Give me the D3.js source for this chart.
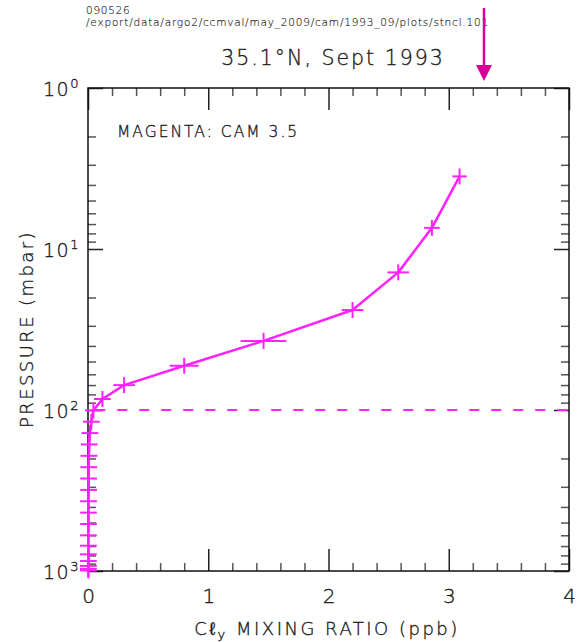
<!DOCTYPE html>
<html><head><meta charset="utf-8">
<script src="https://cdn.jsdelivr.net/npm/d3@7"></script>
<style>
body{margin:0;background:#fff;}
svg{display:block;font-family:"DejaVu Sans",Arial,sans-serif;}
</style></head>
<body><svg id="c" width="577" height="642"></svg>
<script>
// pressure levels (mbar)
const levels = [3.54, 7.39, 13.97, 23.94, 37.23, 53.11, 70.06, 85.44, 100.51, 118.25, 139.12, 163.66, 192.54, 226.51, 266.48, 313.50, 368.82, 433.89, 510.46, 600.52, 696.80, 787.70, 867.16, 929.65, 970.55, 992.56];
// Cly mixing ratio (ppb)
const cly = [3.09, 2.86, 2.58, 2.20, 1.46, 0.80, 0.30, 0.12, 0.045, 0.028, 0.016, 0.010, 0.008, 0.006, 0.005, 0.005, 0.004, 0.004, 0.004, 0.003, 0.003, 0.003, 0.003, 0.003, 0.003, 0.003];
// horizontal half-width of crosses (ppb)
const spread = [0.06, 0.065, 0.09, 0.09, 0.19, 0.12, 0.09, 0.07, 0.07, 0.07, 0.07, 0.07, 0.07, 0.07, 0.07, 0.07, 0.07, 0.07, 0.07, 0.07, 0.07, 0.07, 0.07, 0.07, 0.07, 0.07];
const tropopause = 100;
const xTicks = [0, 1, 2, 3, 4];
const xMinor = [0.2,0.4,0.6,0.8,1.2,1.4,1.6,1.8,2.2,2.4,2.6,2.8,3.2,3.4,3.6,3.8];
const yTicks = [1, 10, 100, 1000];
const yExp = ["0", "1", "2", "3"];
const headerDate = "090526";
const headerPath = "/export/data/argo2/ccmval/may_2009/cam/1993_09/plots/stncl.101";
const title = "35.1°N, Sept 1993";
const legendText = "MAGENTA:  CAM  3.5";

const FONT = "DejaVu Sans, Arial, sans-serif";
const TXT = "#1a1a1a";
const svg = d3.select("#c");
const L = 88, R = 569, T = 88, B = 571;
const x = d3.scaleLinear().domain([0, 4]).range([L, R]);
const y = d3.scaleLog().domain([1, 1000]).range([T, B]);
const yMinor = [];
[1, 10, 100].forEach(d => { for (let k = 2; k <= 9; k++) yMinor.push(d * k); });

svg.append("rect").attr("width", 577).attr("height", 642).attr("fill", "#fff");

function txt(sel, size, ls, sw) {
  return sel.attr("font-size", size).attr("fill", TXT).attr("font-weight", 300)
    .attr("font-family", FONT).attr("letter-spacing", ls || 0)
    .attr("stroke", TXT).attr("stroke-width", sw === undefined ? 0.35 : sw);
}

// header
txt(svg.append("text").attr("x", 86).attr("y", 14), 10.5, 0.7, 0.15).text(headerDate);
txt(svg.append("text").attr("x", 86).attr("y", 26), 10.5, 0.8, 0.15).text(headerPath);
txt(svg.append("text").attr("x", 333).attr("y", 65).attr("text-anchor", "middle"), 20.5, 2).text(title);

// arrow
svg.append("line").attr("x1", 484).attr("x2", 484).attr("y1", 8).attr("y2", 68)
  .attr("stroke", "#d6009b").attr("stroke-width", 2.5);
svg.append("path").attr("d", "M476,65 L492,65 L484,81 Z").attr("fill", "#d6009b");

// axes
function styleAxis(g, minor) {
  g.select(".domain").remove();
  g.selectAll(".tick line").attr("stroke", minor ? "#555" : "#222").attr("stroke-width", 1.5);
}
svg.append("g").attr("transform", `translate(0,${B})`)
  .call(d3.axisBottom(x).tickValues(xMinor).tickSize(-8).tickFormat("")).call(g => styleAxis(g, true));
svg.append("g").attr("transform", `translate(0,${T})`)
  .call(d3.axisTop(x).tickValues(xMinor).tickSize(-8).tickFormat("")).call(g => styleAxis(g, true));
const xb = svg.append("g").attr("transform", `translate(0,${B})`)
  .call(d3.axisBottom(x).tickValues(xTicks).tickSize(-22).tickFormat(d3.format("d"))).call(g => styleAxis(g, false));
xb.selectAll(".tick text").attr("y", 32).attr("dy", 0).call(s => txt(s, 20, 0));
svg.append("g").attr("transform", `translate(0,${T})`)
  .call(d3.axisTop(x).tickValues(xTicks).tickSize(-22).tickFormat("")).call(g => styleAxis(g, false));

svg.append("g").attr("transform", `translate(${L},0)`)
  .call(d3.axisLeft(y).tickValues(yMinor).tickSize(-8).tickFormat("")).call(g => styleAxis(g, true));
svg.append("g").attr("transform", `translate(${R},0)`)
  .call(d3.axisRight(y).tickValues(yMinor).tickSize(-8).tickFormat("")).call(g => styleAxis(g, true));
const yl = svg.append("g").attr("transform", `translate(${L},0)`)
  .call(d3.axisLeft(y).tickValues(yTicks).tickSize(-15).tickFormat("")).call(g => styleAxis(g, false));
yl.selectAll(".tick").each(function(d, i) {
  const t = txt(d3.select(this).append("text").attr("x", -8).attr("y", 7).attr("text-anchor", "end"), 19, 1.5);
  t.append("tspan").text("10");
  t.append("tspan").attr("dy", -8).attr("font-size", 13).text(yExp[i]);
});
svg.append("g").attr("transform", `translate(${R},0)`)
  .call(d3.axisRight(y).tickValues(yTicks).tickSize(-15).tickFormat("")).call(g => styleAxis(g, false));

// frame
svg.append("rect").attr("x", L).attr("y", T).attr("width", R - L).attr("height", B - T)
  .attr("fill", "none").attr("stroke", "#111").attr("stroke-width", 1.5);

// axis titles
const xt = txt(svg.append("text").attr("x", 327).attr("y", 635).attr("text-anchor", "middle"), 18, 2.5);
xt.append("tspan").text("Cℓ");
xt.append("tspan").attr("dy", 4).attr("font-size", 13).text("y");
xt.append("tspan").attr("dy", -4).text(" MIXING  RATIO  (ppb)");
txt(svg.append("text").attr("transform", "translate(33,329) rotate(-90)").attr("text-anchor", "middle"), 18, 2.4)
  .text("PRESSURE  (mbar)");

// legend
txt(svg.append("text").attr("x", 117).attr("y", 137), 15.5, 2).text(legendText);

// tropopause dashed line
svg.append("line").attr("x1", x(0.06)).attr("x2", R).attr("y1", y(tropopause)).attr("y2", y(tropopause))
  .attr("stroke", "#ff22ff").attr("stroke-width", 2).attr("stroke-dasharray", "10,12");

// curve
const data = levels.map((p, i) => ({p, v: cly[i], s: spread[i]}));
const line = d3.line().x(d => x(d.v)).y(d => y(d.p));
svg.append("path").datum(data).attr("d", line).attr("fill", "none")
  .attr("stroke", "#ff22ff").attr("stroke-width", 2.5).attr("stroke-linejoin", "round");
const cr = svg.append("g").attr("stroke", "#ff22ff").attr("stroke-width", 2);
cr.selectAll("line.h").data(data).join("line").attr("class", "h")
  .attr("x1", d => x(d.v - d.s)).attr("x2", d => x(d.v + d.s))
  .attr("y1", d => y(d.p)).attr("y2", d => y(d.p));
cr.selectAll("line.v").data(data).join("line").attr("class", "v")
  .attr("x1", d => x(d.v)).attr("x2", d => x(d.v))
  .attr("y1", d => y(d.p) - 8).attr("y2", d => y(d.p) + 8);
</script></body></html>
